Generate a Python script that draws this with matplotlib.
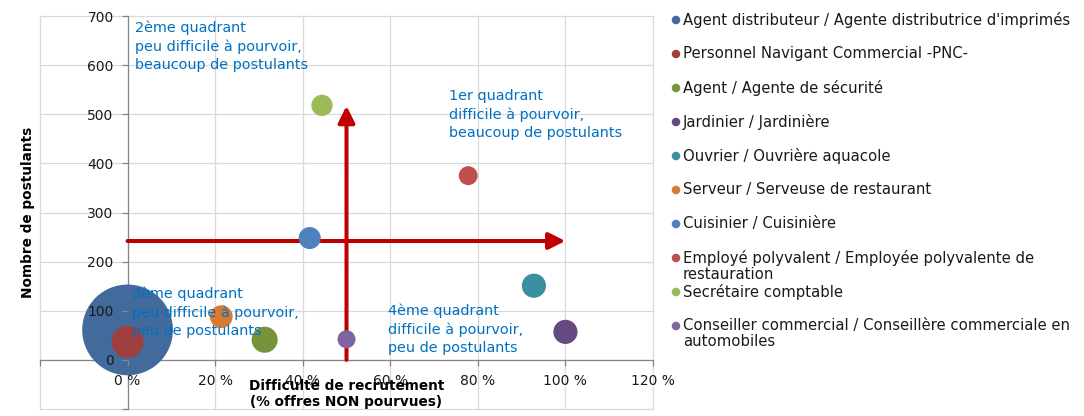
import matplotlib
matplotlib.use("Agg")
import matplotlib.pyplot as plt

# Données
metiers = [
    "Agent distributeur / Agente distributrice d'imprimés",
    "Personnel Navigant Commercial -PNC-",
    "Agent / Agente de sécurité",
    "Jardinier / Jardinière",
    "Ouvrier / Ouvrière aquacole",
    "Serveur / Serveuse de restaurant",
    "Cuisinier / Cuisinière",
    "Employé polyvalent / Employée polyvalente de\nrestauration",
    "Secrétaire comptable",
    "Conseiller commercial / Conseillère commerciale en\nautomobiles",
]
difficulte = [0, 0, 31.3, 100, 92.8, 21.4, 41.6, 77.8, 44.4, 50]   # % offres non pourvues
postulants = [61, 37, 41, 57, 151, 88, 248, 375, 518, 42]
offres = [254, 32, 21, 18, 18, 16, 15, 11, 14, 10]                  # taille des bulles
couleurs = ["#426A9D", "#A0403E", "#77933C", "#644A7F", "#3A8FA3",
            "#D97A33", "#4F81BD", "#C0504D", "#9BBB59", "#8064A2"]

x_ticks = [-20, 0, 20, 40, 60, 80, 100, 120]
x_labels = ["", "0 %", "20 %", "40 %", "60 %", "80 %", "100 %", "120 %"]
y_ticks = [-100, 0, 100, 200, 300, 400, 500, 600, 700]
y_labels = ["", "0", "100", "200", "300", "400", "500", "600", "700"]

seuil_x = 50
seuil_y = 242

plt.rcParams['font.family'] = ['DejaVu Sans']

fig = plt.figure(figsize=(10.84, 4.16), dpi=100)
ax = fig.add_axes([40 / 1084, 7 / 416, 613 / 1084, 393 / 416])
ax.set_xlim(-20, 120)
ax.set_ylim(-100, 700)

# grille manuelle (sous les bulles)
for xv in x_ticks:
    ax.axvline(xv, color="#D9D9D9", lw=0.9, zorder=0, clip_on=False)
for yv in y_ticks:
    ax.axhline(yv, color="#D9D9D9", lw=0.9, zorder=0, clip_on=False)

# axes passant par 0
for s in ["top", "right"]:
    ax.spines[s].set_visible(False)
ax.spines["left"].set_position(("data", 0))
ax.spines["bottom"].set_position(("data", 0))
for s in ["left", "bottom"]:
    ax.spines[s].set_color("#868686")
    ax.spines[s].set_linewidth(0.9)
    ax.spines[s].set_zorder(0.6)
ax.set_axisbelow(False)

ax.set_xticks(x_ticks, x_labels)
ax.set_yticks(y_ticks, y_labels)
ax.tick_params(axis="both", direction="out", length=4, width=0.9, color="#868686",
               labelsize=10, labelcolor="#1a1a1a")
ax.tick_params(axis="x", pad=6)
ax.tick_params(axis="y", pad=6)

# flèches de seuil
fleche = dict(arrowstyle="-|>", lw=2.9, color="#C00000", mutation_scale=25,
              shrinkA=0, shrinkB=0)
ax.annotate("", xy=(100, seuil_y), xytext=(0, seuil_y), arrowprops=fleche, zorder=0.8)
ax.annotate("", xy=(seuil_x, 517), xytext=(seuil_x, 0), arrowprops=fleche, zorder=0.8)

# bulles
k = 16.8
for i in range(len(metiers)):
    ax.scatter(difficulte[i], postulants[i], s=offres[i] * k, color=couleurs[i],
               edgecolors="none", zorder=1, clip_on=False)

# textes des quadrants
bleu = "#0070C0"
quad = dict(color=bleu, fontsize=10.4, linespacing=1.38, va="top", ha="left", zorder=5)
ax.text(1.6, 690, "2ème quadrant\npeu difficile à pourvoir,\nbeaucoup de postulants", **quad)
ax.text(73.4, 552, "1er quadrant\ndifficile à pourvoir,\nbeaucoup de postulants", **quad)
ax.text(1.1, 149, "3ème quadrant\npeu difficile à pourvoir,\npeu de postulants", **quad)
ax.text(59.4, 114, "4ème quadrant\ndifficile à pourvoir,\npeu de postulants", **quad)

ax.set_xlabel("Difficulté de recrutement\n(% offres NON pourvues)", fontsize=9.8,
              fontweight="bold", linespacing=1.25)
ax.xaxis.set_label_coords(0.5, 0.077)
ax.set_ylabel("Nombre de postulants", fontsize=9.8, fontweight="bold")
ax.yaxis.set_label_coords(-0.008, 0.5)

# légende
lg = fig.add_axes([670 / 1084, (416 - 343) / 416, 414 / 1084, 340 / 416])
lg.set_xlim(0, 1)
lg.set_ylim(len(metiers) - 0.5, -0.5)
lg.axis("off")
for i, nom in enumerate(metiers):
    lg.scatter(0.0145, i, s=38, color=couleurs[i], edgecolors="none")
    lg.text(0.031, i - 0.245, nom, fontsize=10.7, va="top", ha="left",
            color="#1a1a1a", linespacing=1.1)

fig.savefig("out.png", dpi=100)
